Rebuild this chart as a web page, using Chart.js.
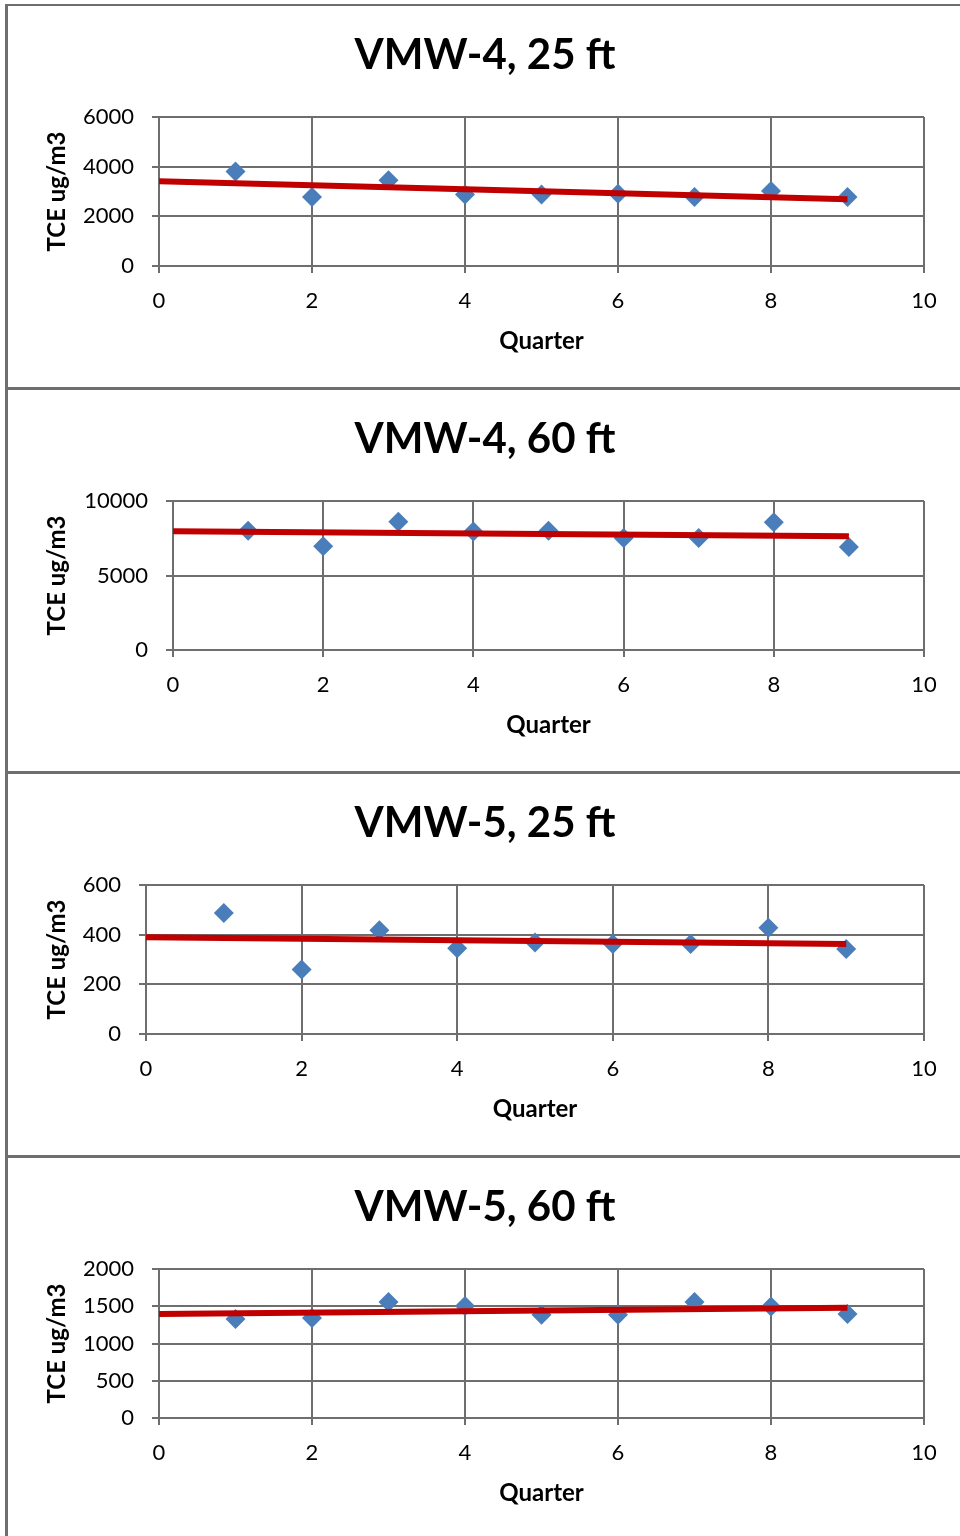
<!DOCTYPE html>
<html lang="en">
<head>
    <meta charset="UTF-8">
    <title>TCE by quarter</title>
    <style>
        body {margin: 0; background: #fff;}
        .frame {position: absolute; left: 5px; top: 4px; width: 960px; height: 1540px;
                border-left: 3px solid #6e6e6e; border-top: 2px solid #6e6e6e;}
        .divider {position: absolute; left: 5px; width: 960px; height: 3px; background: #6e6e6e;}
        canvas {position: absolute; left: 10px;}
    </style>
    <script src="https://cdn.jsdelivr.net/npm/chart.js@4.4.1/dist/chart.umd.min.js"></script>
</head>
<body>
    <div class="frame"></div>
    <div class="divider" style="top:387px"></div>
    <div class="divider" style="top:771px"></div>
    <div class="divider" style="top:1155px"></div>

    <canvas id="c0" width="950" height="380" style="top:7px"></canvas>
    <canvas id="c1" width="950" height="380" style="top:391px"></canvas>
    <canvas id="c2" width="950" height="380" style="top:775px"></canvas>
    <canvas id="c3" width="950" height="380" style="top:1159px"></canvas>

    <script>
        // quarter numbers and TCE readings (ug/m3)
        const quarters = [1, 2, 3, 4, 5, 6, 7, 8, 9];
        const vmw4_25 = [3810, 2780, 3450, 2880, 2880, 2910, 2780, 3020, 2780];
        const vmw4_60 = [8000, 6970, 8600, 7950, 8000, 7520, 7520, 8570, 6920];
        const vmw5_25 = [487, 260, 418, 345, 368, 362, 362, 428, 342];
        const vmw5_60 = [1330, 1342, 1557, 1503, 1385, 1385, 1557, 1495, 1396];

        // trend line ends (quarter 0 and quarter 9)
        const trendX = [0, 9];
        const trend4_25 = [3410, 2690];
        const trend4_60 = [7970, 7640];
        const trend5_25 = [390, 362];
        const trend5_60 = [1396, 1480];

        const titles = ['VMW-4, 25 ft', 'VMW-4, 60 ft', 'VMW-5, 25 ft', 'VMW-5, 60 ft'];
        const yMax = [6000, 10000, 600, 2000];
        const yStep = [2000, 5000, 200, 500];
        const xTicks = [0, 2, 4, 6, 8, 10];

        const series = [vmw4_25, vmw4_60, vmw5_25, vmw5_60];
        const trends = [trend4_25, trend4_60, trend5_25, trend5_60];
        const yAxisWidth = [149, 163, 136, 149];

        const gridColor = '#6e6e6e';

        function makeChart(i) {
            const pts = quarters.map((q, k) => ({x: q, y: series[i][k]}));
            const line = trendX.map((q, k) => ({x: q, y: trends[i][k]}));
            return new Chart(document.getElementById('c' + i), {
                type: 'scatter',
                data: {
                    datasets: [{
                        // trend first so it sits on top of the diamonds
                        data: line,
                        showLine: true,
                        borderColor: '#c00000',
                        borderWidth: 6,
                        pointRadius: 0
                    }, {
                        data: pts,
                        pointStyle: 'rectRot',
                        pointRadius: 10,
                        backgroundColor: '#4a7ebb',
                        borderColor: '#4a7ebb',
                        borderWidth: 0
                    }]
                },
                options: {
                    responsive: false,
                    animation: false,
                    devicePixelRatio: 1,
                    layout: {padding: {left: 0, right: 0, top: 0, bottom: 30}},
                    plugins: {
                        legend: {display: false},
                        tooltip: {enabled: false},
                        title: {
                            display: true,
                            text: titles[i],
                            color: '#000',
                            font: {family: 'Lato', size: 42, weight: 'bold'},
                            padding: {top: 23, bottom: 36.6}
                        }
                    },
                    scales: {
                        x: {
                            type: 'linear',
                            min: 0,
                            max: 10,
                            afterBuildTicks: (s) => { s.ticks = xTicks.map(v => ({value: v})); },
                            afterFit: (s) => { s.height = 91; },
                            grid: {color: gridColor, lineWidth: 2, tickLength: 7, tickColor: gridColor},
                            border: {color: gridColor, width: 2},
                            ticks: {color: '#000', padding: 15, font: {family: 'Lato', size: 22}},
                            title: {
                                display: true,
                                text: 'Quarter',
                                color: '#000',
                                font: {family: 'Lato', size: 24, weight: 'bold'},
                                padding: {top: 0, bottom: 1}
                            }
                        },
                        y: {
                            min: 0,
                            max: yMax[i],
                            afterFit: (s) => { s.width = yAxisWidth[i]; },
                            grid: {color: gridColor, lineWidth: 2, tickLength: 7, tickColor: gridColor},
                            border: {color: gridColor, width: 2},
                            ticks: {
                                stepSize: yStep[i],
                                color: '#000',
                                padding: 18,
                                font: {family: 'Lato', size: 22},
                                callback: (v) => String(v)
                            },
                            title: {
                                display: true,
                                text: 'TCE ug/m3',
                                color: '#000',
                                font: {family: 'Lato', size: 24, weight: 'bold'},
                                padding: {top: 33, bottom: 0}
                            }
                        },
                        // empty right-hand strip so the title centres on the whole panel
                        pad: {
                            type: 'linear',
                            position: 'right',
                            display: true,
                            afterFit: (s) => { s.width = 36; },
                            grid: {display: false},
                            border: {display: false},
                            ticks: {display: false}
                        }
                    }
                }
            });
        }

        for (let i = 0; i < 4; i++) makeChart(i);
    </script>
</body>
</html>
